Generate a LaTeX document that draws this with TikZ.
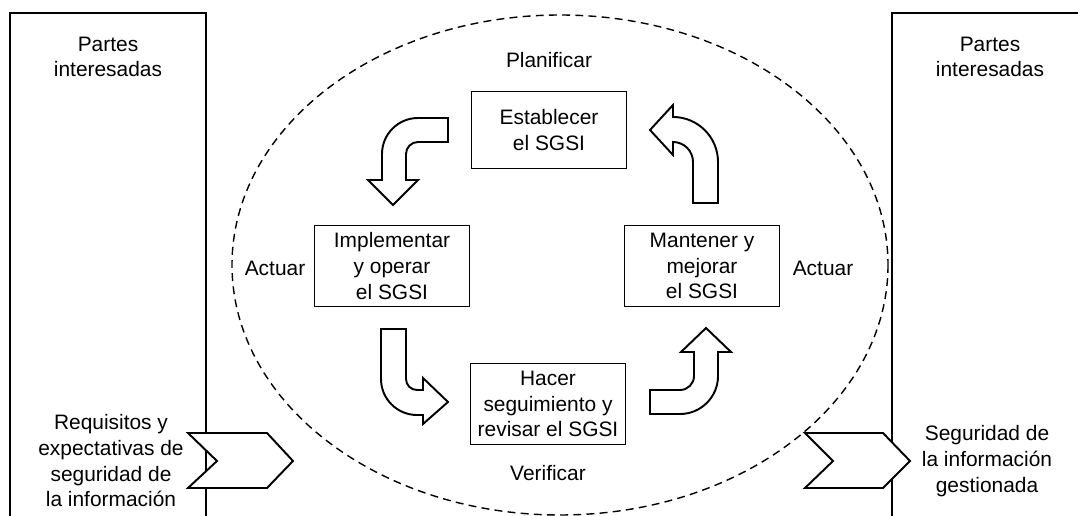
\documentclass[tikz,border=0pt]{standalone}
\usepackage{fontspec}
\setmainfont{Liberation Sans}

\begin{document}
\begin{tikzpicture}[x=0.02cm,y=-0.02cm,line join=miter]
    \tikzstyle{texto}=[align=center,inner sep=0pt,font=\fontsize{11.9}{14.6}\selectfont]
    \tikzstyle{proceso}=[style=texto,draw,line width=1.1pt,minimum width=3.1cm,minimum height=1.62cm]
    \tikzstyle{parte}=[draw,line width=1.2pt]
    \tikzstyle{flecha}=[draw,line width=1.1pt,fill=white]
    \useasboundingbox (0,0) rectangle (1078,516);
    \clip (0,0) rectangle (1078,516);

    % partes interesadas
    \draw[parte] (10,540) -- (10,13) -- (206,13) -- (206,540);
    \draw[parte] (892,540) -- (892,13) -- (1100,13);
    \draw[line width=0.8pt,dash pattern=on 4.5pt off 3pt] (560,265) ellipse [x radius=328, y radius=250];

    % entradas y salidas
    \draw[flecha] (188,433) -- (267,433) -- (293,461) -- (267,488) -- (188,488) -- (217,461) -- cycle;
    \draw[flecha] (805,433) -- (883,433) -- (910,461) -- (883,488) -- (805,488) -- (833,461) -- cycle;

    \node[texto] (partesizq) at (108,57) {Partes\\interesadas};
    \node[texto] (partesder) at (990,57) {Partes\\interesadas};
    \node[texto] (requisitos) at (111,461) {Requisitos y\\expectativas de\\seguridad de\\la información};
    \node[texto] (seguridad) at (987,461) {Seguridad de\\la información\\gestionada};

    % ciclo PDCA
    \node[texto] (planificar) at (549,60) {Planificar};
    \node[texto] (verificar) at (548,473) {Verificar};
    \node[texto] (actuarizq) at (275,268) {Actuar};
    \node[texto] (actuarder) at (823,268) {Actuar};

    \node[proceso,minimum height=1.54cm] (establecer) at (549,130) {Establecer\\el SGSI};
    \node[proceso] (implementar) at (392,266) {Implementar\\y operar\\el SGSI};
    \node[proceso] (mantener) at (702,266) {Mantener y\\mejorar\\el SGSI};
    \node[proceso] (hacer) at (548,404) {Hacer\\seguimiento y\\revisar el SGSI};

    % flechas curvas
    \draw[flecha] (448,118) -- (418,118) arc[start angle=-90,end angle=-180,radius=36]
      -- (382,180) -- (368,180) -- (393,205) -- (418,180) -- (406,180)
      -- (406,154) arc[start angle=180,end angle=270,radius=12] -- (448,142) -- cycle;
    \draw[flecha] (381,329) -- (381,379) arc[start angle=180,end angle=90,radius=36]
      -- (423,415) -- (423,424) -- (448,402) -- (423,378) -- (423,390) -- (417,390)
      arc[start angle=90,end angle=180,radius=11] -- (406,329) -- cycle;
    \draw[flecha] (650,390) -- (680,390) arc[start angle=90,end angle=0,radius=14]
      -- (694,352) -- (681,352) -- (706,328) -- (731,352) -- (718,352) -- (718,376)
      arc[start angle=0,end angle=90,radius=38] -- (650,414) -- cycle;
    \draw[flecha] (718,203) -- (718,162) arc[start angle=0,end angle=-90,radius=45]
      -- (673,105) -- (650,130) -- (673,155) -- (673,142)
      arc[start angle=-90,end angle=0,radius=20] -- (693,203) -- cycle;
\end{tikzpicture}
\end{document}
